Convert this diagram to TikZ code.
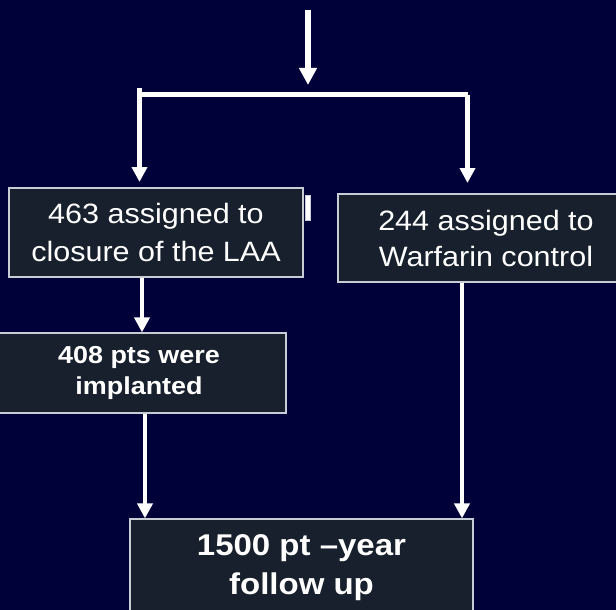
\documentclass[tikz,border=0pt]{standalone}
\usepackage{fontspec}
\setmainfont{Liberation Sans}
\newfontfamily\thinfont[FakeStretch=1.09]{Liberation Sans}
\newfontfamily\widefont[FakeStretch=1.1]{Liberation Sans}
\usetikzlibrary{arrows.meta}
\definecolor{NightBlue}{RGB}{1,1,58}
\definecolor{BoxSlate}{RGB}{23,32,44}
\definecolor{EdgeGrey}{RGB}{200,204,212}

\begin{document}
\begin{tikzpicture}[x=1pt,y=-1pt,
  box/.style={draw=EdgeGrey,fill=BoxSlate,line width=1.2pt,text=white,align=center,inner sep=0pt},
  flow/.style={draw=white,line width=4.5pt,-{Triangle[width=15pt,length=15pt]}}]
\fill[NightBlue] (0,0) rectangle (616,610);
\useasboundingbox (0,0) rectangle (616,610);
% boxes
\node[box,minimum width=294pt,minimum height=89pt,font=\thinfont\fontsize{28}{38}\selectfont]
  (closure) at (156,232.5) {463 assigned to\\closure of the LAA};
\node[box,minimum width=296pt,minimum height=88pt,font=\thinfont\fontsize{28}{36}\selectfont]
  (warfarin) at (486,238) {244 assigned to\\Warfarin control};
\node[box,minimum width=294pt,minimum height=80pt,font=\widefont\bfseries\fontsize{24.5}{30.5}\selectfont]
  (implant) at (139,373) {408 pts were\\implanted};
\node[box,minimum width=343pt,minimum height=98pt,font=\widefont\bfseries\fontsize{30}{39}\selectfont]
  (followup) at (301.5,568) {1500 pt \textendash year\\follow up};
\draw[EdgeGrey,fill=white,line width=0.8pt] (305,195) rectangle (310,220);
% split
\coordinate (entry) at (308,10);
\coordinate (fork) at (308,85);
\coordinate (forkL) at (139.5,94.5);
\coordinate (forkR) at (467.5,94.5);
\coordinate (dropL) at (139.5,182);
\coordinate (dropR) at (467.5,183);
\draw[flow,line width=5.5pt,-{Triangle[width=17pt,length=17pt]}] (entry) -- (fork);
\draw[white,line width=4.5pt] (forkL) -- (forkR);
\draw[flow] ([yshift=6pt]forkL) -- (dropL);
\draw[flow] (forkR) -- (dropR);
% lanes
\coordinate (laneA) at ([xshift=-14pt]closure.south);
\coordinate (laneC) at ([xshift=6pt]implant.south);
\coordinate (laneB) at ([xshift=-24pt]warfarin.south);
\draw[flow] (laneA) -- (laneA |- implant.north);
\draw[flow] (laneC) -- (laneC |- followup.north);
\draw[flow] (laneB) -- (laneB |- followup.north);
\end{tikzpicture}
\end{document}
